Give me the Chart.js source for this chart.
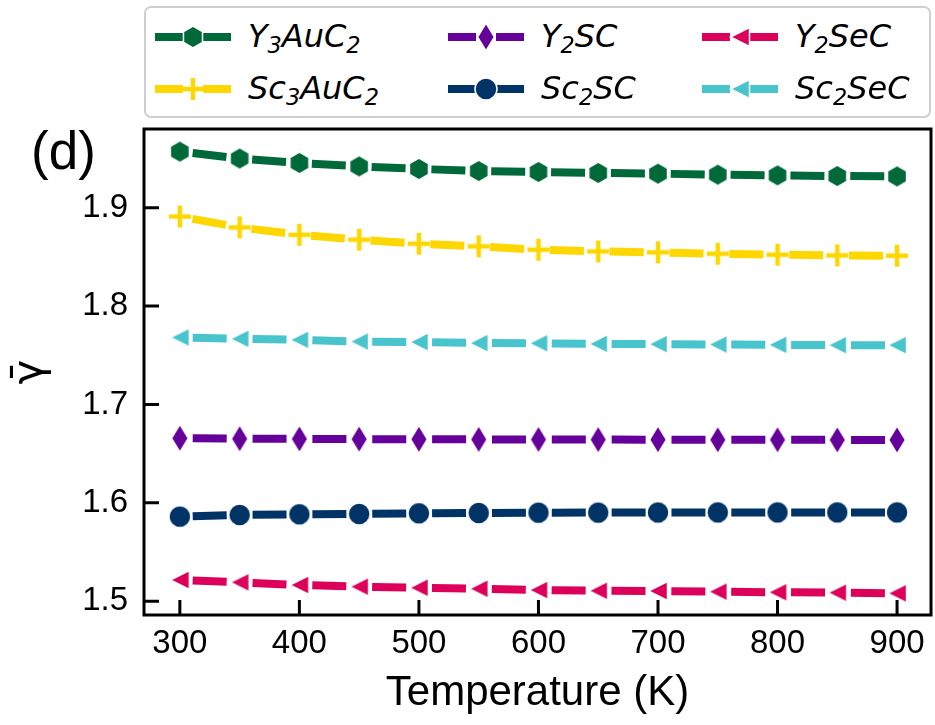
<!DOCTYPE html>
<html>
<head>
<meta charset="utf-8">
<script src="https://cdn.jsdelivr.net/npm/chart.js@4/dist/chart.umd.min.js"></script>
<style>
  html, body { margin: 0; padding: 0; background: #fff; }
  #wrap { position: relative; width: 935px; height: 725px; }
  #chart { position: absolute; left: 0; top: 0; }
  #legend {
    position: absolute; left: 144px; top: 6px; width: 783px; height: 108px;
    border: 2.5px solid #cfcfcf; border-radius: 7px; background: #fff;
  }
  .item { position: absolute; height: 40px; display: flex; align-items: center; }
  .item canvas { display: block; }
  .item span {
    font-family: "DejaVu Sans"; font-style: italic; font-size: 32px; line-height: 40px;
    color: #000; margin-left: 17px; white-space: nowrap;
  }
  .item sub { font-size: 0.7em; position: relative; top: 6px; vertical-align: baseline; }
</style>
</head>
<body>
<div id="wrap">
  <canvas id="chart" width="935" height="725"></canvas>
  <div id="legend"></div>
</div>
<script>
document.addEventListener('DOMContentLoaded', () => {
  // temperatures (K)
  const temps = [300, 350, 400, 450, 500, 550, 600, 650, 700, 750, 800, 850, 900];

  // gamma-bar values
  const y3auc2 = [1.957, 1.950, 1.9455, 1.942, 1.9394, 1.9373, 1.9363, 1.9353, 1.9346, 1.9336, 1.9329, 1.9322, 1.9318];
  const sc3auc2 = [1.891, 1.880, 1.8725, 1.8675, 1.8634, 1.8607, 1.8573, 1.8556, 1.8546, 1.8532, 1.8522, 1.8515, 1.8512];
  const y2sc = [1.6657, 1.6652, 1.6650, 1.6648, 1.6646, 1.6645, 1.6644, 1.6643, 1.6642, 1.6641, 1.6641, 1.6640, 1.6640];
  const sc2sc = [1.586, 1.5877, 1.5884, 1.5887, 1.5894, 1.5897, 1.5900, 1.5901, 1.5902, 1.5903, 1.5903, 1.5903, 1.5903];
  const y2sec = [1.5216, 1.5192, 1.5165, 1.5148, 1.5137, 1.5127, 1.5114, 1.5107, 1.5104, 1.5097, 1.5091, 1.5087, 1.5080];
  const sc2sec = [1.7681, 1.7667, 1.7657, 1.7640, 1.7634, 1.7624, 1.7622, 1.7616, 1.7613, 1.7609, 1.7606, 1.7603, 1.7603];

  const xTicks = [300, 400, 500, 600, 700, 800, 900];
  const yTicks = [1.5, 1.6, 1.7, 1.8, 1.9];

  // legend order (matplotlib ncol=3 fills by column)
  const series = [
    { label: 'Y<sub>3</sub>AuC<sub>2</sub>', data: y3auc2, color: '#00693a', marker: 'hex' },
    { label: 'Sc<sub>3</sub>AuC<sub>2</sub>', data: sc3auc2, color: '#ffd700', marker: 'plus' },
    { label: 'Y<sub>2</sub>SC', data: y2sc, color: '#65009b', marker: 'diamond' },
    { label: 'Sc<sub>2</sub>SC', data: sc2sc, color: '#003366', marker: 'circle' },
    { label: 'Y<sub>2</sub>SeC', data: y2sec, color: '#dc005a', marker: 'tri' },
    { label: 'Sc<sub>2</sub>SeC', data: sc2sec, color: '#48c4cc', marker: 'tri' }
  ];

  function drawMarker(ctx, kind, x, y, color) {
    ctx.save();
    ctx.fillStyle = color;
    ctx.strokeStyle = '#fff';
    ctx.lineWidth = 1.5;
    ctx.lineJoin = 'miter';
    ctx.beginPath();
    if (kind === 'hex') {
      for (let k = 0; k < 6; k++) {
        const a = -Math.PI / 2 + k * Math.PI / 3;
        const px = x + 11 * Math.cos(a), py = y + 11 * Math.sin(a);
        k === 0 ? ctx.moveTo(px, py) : ctx.lineTo(px, py);
      }
      ctx.closePath(); ctx.fill(); ctx.stroke();
    } else if (kind === 'diamond') {
      ctx.moveTo(x, y - 14); ctx.lineTo(x + 8.5, y); ctx.lineTo(x, y + 14); ctx.lineTo(x - 8.5, y);
      ctx.closePath(); ctx.fill(); ctx.stroke();
    } else if (kind === 'circle') {
      ctx.arc(x, y, 11, 0, Math.PI * 2);
      ctx.fill(); ctx.stroke();
    } else if (kind === 'tri') {
      ctx.moveTo(x - 9.5, y); ctx.lineTo(x + 9.5, y - 9.5); ctx.lineTo(x + 9.5, y + 9.5);
      ctx.closePath(); ctx.fill(); ctx.stroke();
    } else if (kind === 'plus') {
      ctx.strokeStyle = color;
      ctx.lineWidth = 4.5;
      ctx.moveTo(x - 11, y); ctx.lineTo(x + 11, y);
      ctx.moveTo(x, y - 11); ctx.lineTo(x, y + 11);
      ctx.stroke();
    }
    ctx.restore();
  }

  function markerImage(kind, color) {
    const c = document.createElement('canvas');
    c.width = 36; c.height = 36;
    drawMarker(c.getContext('2d'), kind, 18, 18, color);
    return c;
  }

  // html legend
  const legend = document.getElementById('legend');
  const colX = [9, 302, 556];
  const rowY = [9, 61];
  series.forEach((s, i) => {
    const item = document.createElement('div');
    item.className = 'item';
    item.style.left = colX[Math.floor(i / 2)] + 'px';
    item.style.top = rowY[i % 2] + 'px';
    const icon = document.createElement('canvas');
    icon.width = 76; icon.height = 40;
    const ictx = icon.getContext('2d');
    ictx.fillStyle = s.color;
    ictx.fillRect(0, 16, 28, 8);
    ictx.fillRect(48, 16, 28, 8);
    drawMarker(ictx, s.marker, 38, 20, s.color);
    item.appendChild(icon);
    const txt = document.createElement('span');
    txt.innerHTML = s.label;
    item.appendChild(txt);
    legend.appendChild(item);
  });

  const frame = {
    id: 'frame',
    afterDraw(chart) {
      const { ctx, chartArea: a, scales } = chart;
      ctx.save();
      ctx.strokeStyle = '#000';
      ctx.lineWidth = 3;
      ctx.strokeRect(a.left, a.top, a.right - a.left, a.bottom - a.top);
      ctx.beginPath();
      xTicks.forEach(v => {
        const px = scales.x.getPixelForValue(v);
        ctx.moveTo(px, a.bottom); ctx.lineTo(px, a.bottom - 15);
      });
      yTicks.forEach(v => {
        const py = scales.y.getPixelForValue(v);
        ctx.moveTo(a.left, py); ctx.lineTo(a.left + 15, py);
      });
      ctx.stroke();
      ctx.fillStyle = '#000';
      ctx.font = '53px "Liberation Sans"';
      ctx.textBaseline = 'alphabetic';
      ctx.fillText('(d)', 31, 169);
      ctx.restore();
    }
  };

  const tickFont = { family: 'Liberation Sans', size: 33 };

  new Chart(document.getElementById('chart'), {
    type: 'line',
    data: {
      datasets: series.map(s => ({
        label: s.label,
        data: temps.map((t, i) => ({ x: t, y: s.data[i] })),
        borderColor: s.color,
        borderWidth: 8,
        borderDash: [34, 25.85],
        borderDashOffset: 47,
        tension: 0,
        fill: false,
        pointStyle: markerImage(s.marker, s.color),
        pointRadius: 11
      }))
    },
    options: {
      responsive: false,
      animation: false,
      events: [],
      layout: { autoPadding: false, padding: { top: 129, right: 4, bottom: 0, left: 0 } },
      plugins: { legend: { display: false }, tooltip: { enabled: false } },
      scales: {
        x: {
          type: 'linear', min: 270, max: 928.4,
          grid: { display: false, drawTicks: false }, border: { display: false },
          afterBuildTicks: sc => { sc.ticks = xTicks.map(v => ({ value: v })); },
          afterFit: sc => { sc.height = 110; sc.paddingLeft = 0; sc.paddingRight = 0; },
          ticks: { font: tickFont, color: '#000', padding: 9, maxRotation: 0 },
          title: { display: true, text: 'Temperature (K)', color: '#000',
                   font: { family: 'Liberation Sans', size: 42, lineHeight: 1 }, padding: { bottom: 11 } }
        },
        y: {
          type: 'linear', min: 1.486, max: 1.980,
          grid: { display: false, drawTicks: false }, border: { display: false },
          afterBuildTicks: sc => { sc.ticks = yTicks.map(v => ({ value: v })); },
          afterFit: sc => { sc.width = 144; sc.paddingTop = 0; sc.paddingBottom = 0; },
          ticks: { font: tickFont, color: '#000', padding: 16, callback: v => v.toFixed(1) },
          title: { display: true, text: 'γ̄', color: '#000',
                   font: { family: 'DejaVu Sans', size: 42, lineHeight: 1 }, padding: { top: 10 } }
        }
      }
    },
    plugins: [frame]
  });
});
</script>
</body>
</html>
